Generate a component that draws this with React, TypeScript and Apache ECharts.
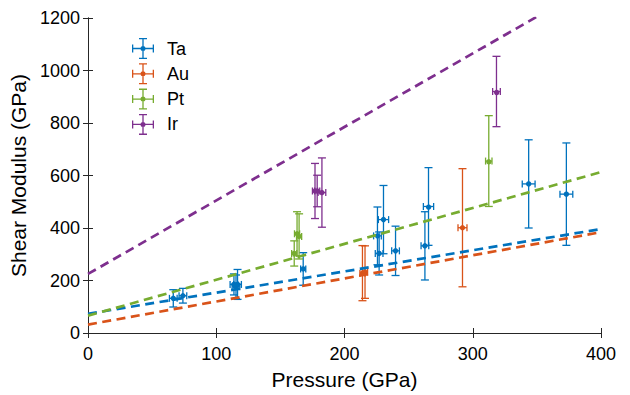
import React, { useEffect, useRef } from "react";
import * as echarts from "echarts";

// ---- Data ----
const names = ["Ta", "Au", "Pt", "Ir"];
const colors = ["#0072BD", "#D95319", "#77AC30", "#7E2F8E"];

const taX = [66.5, 74, 113.8, 115.4, 116.6, 167.8, 225.7, 227, 230.4, 239.8, 262.7, 265.5, 343.6, 373];
const taY = [132, 142, 185, 176, 185, 244, 370, 303, 432, 313, 332, 482, 568, 529];
const taYErr = [33, 28, 40, 45, 57, 62, 110, 82, 130, 94, 130, 148, 168, 195];
const taXErr = [3, 3, 3, 3, 3, 2, 3, 3, 4, 3, 3, 4, 5, 5];

const auX = [214, 216, 292];
const auY = [228, 232, 401];
const auYErr = [105, 100, 225];
const auXErr = [2, 2, 3.5];

const ptX = [160.8, 163, 164.6, 312.5];
const ptY = [303, 378, 368, 655];
const ptYErr = [48, 84, 86, 173];
const ptXErr = [2, 2, 2, 2.5];

const irX = [177, 178.7, 182.4, 318.5];
const irY = [541, 541, 535, 920];
const irYErr = [105, 60, 132, 134];
const irXErr = [2, 2, 3, 3];

// linear fits: [x, y] endpoints
const taFit = [[0, 73], [400, 396]];
const auFit = [[0, 32], [400, 384]];
const ptFit = [[0, 66], [400, 613]];
const irFit = [[0, 225], [400, 1345]];

const xTicks = { min: 0, max: 400, interval: 100 };
const yTicks = { min: 0, max: 1200, interval: 200 };

const FONT = "'Liberation Sans', Arial, Helvetica, sans-serif";
const AXIS_COLOR = "#262626";

const ICON =
  "path://M0 19.7H44V22.3H0Z M0 13H2.6V29H0Z M41.4 13H44V29H41.4Z M20.7 0H23.3V42H20.7Z M14 0H30V2.6H14Z M14 39.4H30V42H14Z M27 21A5 5 0 1 1 17 21A5 5 0 1 1 27 21Z";

function build(xs: number[], ys: number[], ye: number[], xe: number[]) {
  return xs.map((x, i) => [x, ys[i], ye[i], xe[i]]);
}

const groups = [
  build(taX, taY, taYErr, taXErr),
  build(auX, auY, auYErr, auXErr),
  build(ptX, ptY, ptYErr, ptXErr),
  build(irX, irY, irYErr, irXErr),
];
const fits = [taFit, auFit, ptFit, irFit];

const renderItem = (params: any, api: any) => {
  const x = api.value(0);
  const y = api.value(1);
  const ye = api.value(2);
  const xe = api.value(3);
  const c = api.coord([x, y]);
  const top = api.coord([x, y + ye]);
  const bot = api.coord([x, y - ye]);
  const l = api.coord([x - xe, y]);
  const r = api.coord([x + xe, y]);
  const color = api.visual("color");
  const style = { stroke: color, lineWidth: 1.3, fill: "none" };
  const cap = 4;
  const hcap = 3.5;
  return {
    type: "group",
    children: [
      { type: "line", shape: { x1: c[0], y1: top[1], x2: c[0], y2: bot[1] }, style },
      { type: "line", shape: { x1: c[0] - cap, y1: top[1], x2: c[0] + cap, y2: top[1] }, style },
      { type: "line", shape: { x1: c[0] - cap, y1: bot[1], x2: c[0] + cap, y2: bot[1] }, style },
      { type: "line", shape: { x1: l[0], y1: c[1], x2: r[0], y2: c[1] }, style },
      { type: "line", shape: { x1: l[0], y1: c[1] - hcap, x2: l[0], y2: c[1] + hcap }, style },
      { type: "line", shape: { x1: r[0], y1: c[1] - hcap, x2: r[0], y2: c[1] + hcap }, style },
      { type: "circle", shape: { cx: c[0], cy: c[1], r: 2.7 }, style: { fill: color, stroke: "none" } },
    ],
  };
};

export default function App() {
  const ref = useRef<HTMLDivElement>(null);
  useEffect(() => {
    if (!ref.current) return;
    const chart = echarts.init(ref.current, null, { renderer: "svg" });
    const series: any[] = [];
    names.forEach((n, i) => {
      series.push({
        name: n,
        type: "custom",
        renderItem,
        data: groups[i],
        encode: { x: 0, y: 1 },
        itemStyle: { color: colors[i] },
        z: 2,
      });
    });
    names.forEach((n, i) => {
      series.push({
        name: n + " fit",
        type: "line",
        data: fits[i],
        symbol: "none",
        lineStyle: { color: colors[i], width: 2.7, type: [9, 5.5] },
        z: 3,
        silent: true,
      });
    });
    const tickStyle = { inside: true, length: 5, lineStyle: { color: AXIS_COLOR, width: 1 } };
    const lineStyle = { lineStyle: { color: AXIS_COLOR, width: 1 } };
    chart.setOption({
      animation: false,
      grid: { left: 88, right: 29, top: 18, bottom: 58 },
      legend: {
        orient: "vertical",
        left: 127,
        top: 33,
        itemWidth: 22,
        itemHeight: 21,
        itemGap: 4.3,
        data: names.map((n) => ({ name: n, icon: ICON })),
        formatter: (n: string) => `{t|${n}}`,
        textStyle: {
          rich: { t: { fontSize: 18, fontFamily: FONT, color: "#000", padding: [0, 0, 0, 8] } },
        },
      },
      xAxis: [
        {
          type: "value",
          ...xTicks,
          name: "Pressure (GPa)",
          nameLocation: "middle",
          nameGap: 36,
          nameTextStyle: { fontSize: 21, fontFamily: FONT, color: "#000" },
          axisLine: { show: true, ...lineStyle },
          axisTick: tickStyle,
          axisLabel: { fontSize: 18, fontFamily: FONT, color: "#000", margin: 12, formatter: (v: number) => String(v) },
          splitLine: { show: false },
        },
        {
          type: "value",
          ...xTicks,
          position: "top",
          axisLine: { show: true, ...lineStyle },
          axisTick: tickStyle,
          axisLabel: { show: false },
          splitLine: { show: false },
        },
      ],
      yAxis: [
        {
          type: "value",
          ...yTicks,
          name: "Shear Modulus (GPa)",
          nameLocation: "middle",
          nameGap: 54,
          nameTextStyle: { fontSize: 21, fontFamily: FONT, color: "#000" },
          axisLine: { show: true, ...lineStyle },
          axisTick: tickStyle,
          axisLabel: { fontSize: 18, fontFamily: FONT, color: "#000", margin: 8, formatter: (v: number) => String(v) },
          splitLine: { show: false },
        },
        {
          type: "value",
          ...yTicks,
          position: "right",
          axisLine: { show: true, ...lineStyle },
          axisTick: tickStyle,
          axisLabel: { show: false },
          splitLine: { show: false },
        },
      ],
      series,
    });
    return () => chart.dispose();
  }, []);
  return <div ref={ref} style={{ width: 630, height: 395, position: "absolute", left: 0, top: 0, background: "#fff" }} />;
}
